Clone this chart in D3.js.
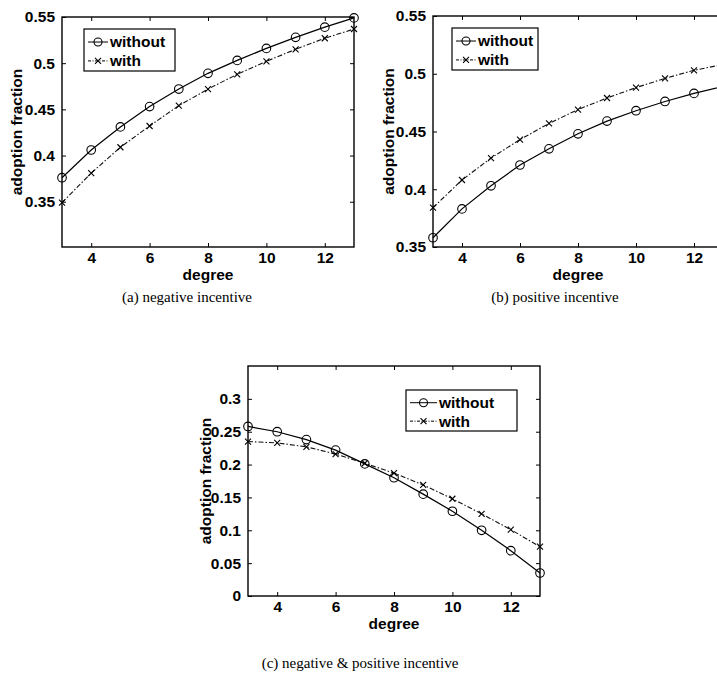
<!DOCTYPE html>
<html>
<head>
<meta charset="utf-8">
<script src="https://cdnjs.cloudflare.com/ajax/libs/d3/7.8.5/d3.min.js"></script>
<style>
  body { margin: 0; background: #fff; }
  svg { display: block; }
  .tick text, .lbl { font-family: "Liberation Sans", Arial, sans-serif; font-weight: bold; }
  .cap { font-family: "Liberation Serif", "Times New Roman", serif; }
</style>
</head>
<body>
<svg id="chart" width="717" height="680"></svg>
<script>
// degree values on the x axis
const degrees = [3, 4, 5, 6, 7, 8, 9, 10, 11, 12, 13];
const xTicks = [4, 6, 8, 10, 12];

// (a) negative incentive
const negWithout = [0.376, 0.406, 0.431, 0.453, 0.472, 0.489, 0.503, 0.516, 0.528, 0.539, 0.549];
const negWith    = [0.349, 0.381, 0.409, 0.432, 0.454, 0.472, 0.488, 0.502, 0.515, 0.527, 0.537];
const negTicks   = [0.35, 0.4, 0.45, 0.5, 0.55];

// (b) positive incentive
const posWithout = [0.358, 0.383, 0.403, 0.421, 0.435, 0.448, 0.459, 0.468, 0.476, 0.483, 0.489];
const posWith    = [0.384, 0.408, 0.427, 0.443, 0.457, 0.469, 0.479, 0.488, 0.496, 0.503, 0.508];
const posTicks   = [0.35, 0.4, 0.45, 0.5, 0.55];

// (c) negative & positive incentive
const bothWithout = [0.258, 0.250, 0.238, 0.222, 0.201, 0.180, 0.155, 0.129, 0.100, 0.069, 0.035];
const bothWith    = [0.235, 0.233, 0.227, 0.216, 0.202, 0.187, 0.169, 0.148, 0.125, 0.101, 0.075];
const bothTicks   = [0, 0.05, 0.1, 0.15, 0.2, 0.25, 0.3];

const seriesNames = ["without", "with"];
const captions = ["(a) negative incentive", "(b) positive incentive", "(c) negative & positive incentive"];

const svg = d3.select("#chart");

const panels = [
  { box: [62, 17, 354, 247], ydom: [0.301, 0.55], yt: negTicks, a: negWithout, b: negWith,
    ylx: 17, leg: [84, 29, 91, 42], cap: [187, 302], cpt: captions[0] },
  { box: [433, 16, 723, 247], ydom: [0.35, 0.55], yt: posTicks, a: posWithout, b: posWith,
    ylx: 389, leg: [452, 28, 86, 42], cap: [555, 302], cpt: captions[1] },
  { box: [248, 366, 540, 596], ydom: [0, 0.35], yt: bothTicks, a: bothWithout, b: bothWith,
    ylx: 206, leg: [406, 390, 111, 41], cap: [360, 668], cpt: captions[2] }
];

function fmt(v) { return String(+v.toFixed(3)); }

function drawPanel(p) {
  const [x0, y0, x1, y1] = p.box;
  const x = d3.scaleLinear().domain([3, 13]).range([x0, x1]);
  const y = d3.scaleLinear().domain(p.ydom).range([y1, y0]);
  const g = svg.append("g");

  // inward ticks on all sides, labels on bottom and left
  g.append("g").attr("transform", `translate(0,${y1})`)
    .call(d3.axisBottom(x).tickValues(xTicks).tickSizeInner(-4).tickSizeOuter(0).tickPadding(7).tickFormat(d3.format("d")))
    .call(s => s.select(".domain").remove())
    .call(s => s.selectAll("text").attr("font-size", 15.5).attr("dy", "0.55em"));
  g.append("g").attr("transform", `translate(0,${y0})`)
    .call(d3.axisTop(x).tickValues(xTicks).tickSizeInner(-4).tickSizeOuter(0).tickFormat(""))
    .call(s => s.select(".domain").remove());
  g.append("g").attr("transform", `translate(${x0},0)`)
    .call(d3.axisLeft(y).tickValues(p.yt).tickSizeInner(-4).tickSizeOuter(0).tickPadding(7).tickFormat(fmt))
    .call(s => s.select(".domain").remove())
    .call(s => s.selectAll("text").attr("font-size", 15.5));
  g.append("g").attr("transform", `translate(${x1},0)`)
    .call(d3.axisRight(y).tickValues(p.yt).tickSizeInner(-4).tickSizeOuter(0).tickFormat(""))
    .call(s => s.select(".domain").remove());
  g.selectAll(".tick line").attr("stroke", "#000");

  g.append("rect").attr("x", x0).attr("y", y0).attr("width", x1 - x0).attr("height", y1 - y0)
    .attr("fill", "none").attr("stroke", "#000").attr("stroke-width", 1.4);

  // series
  const line = d3.line().x((d, i) => x(degrees[i])).y(d => y(d));
  g.append("path").datum(p.b).attr("d", line).attr("fill", "none")
    .attr("stroke", "#111").attr("stroke-width", 1.1).attr("stroke-dasharray", "5,2,1.5,2");
  g.append("path").datum(p.a).attr("d", line).attr("fill", "none")
    .attr("stroke", "#000").attr("stroke-width", 1.2);

  g.selectAll(".mo").data(p.a).join("circle").attr("class", "mo")
    .attr("cx", (d, i) => x(degrees[i])).attr("cy", d => y(d)).attr("r", 4.3)
    .attr("fill", "none").attr("stroke", "#000").attr("stroke-width", 1.1);
  g.selectAll(".mx").data(p.b).join("path").attr("class", "mx")
    .attr("d", (d, i) => {
      const cx = x(degrees[i]), cy = y(d), s = 3;
      return `M${cx - s},${cy - s}L${cx + s},${cy + s}M${cx - s},${cy + s}L${cx + s},${cy - s}`;
    })
    .attr("stroke", "#000").attr("stroke-width", 1.1);

  // axis labels
  g.append("text").attr("class", "lbl").attr("x", x(8))
    .attr("y", y1 + 33).attr("text-anchor", "middle").attr("font-size", 15.5).text("degree");
  g.append("text").attr("class", "lbl")
    .attr("transform", `translate(${p.ylx},${(y0 + y1) / 2}) rotate(-90)`)
    .attr("text-anchor", "middle").attr("dy", "0.35em").attr("font-size", 15.5).text("adoption fraction");

  // legend
  const [lx, ly, lw, lh] = p.leg;
  const lg = g.append("g");
  lg.append("rect").attr("x", lx).attr("y", ly).attr("width", lw).attr("height", lh)
    .attr("fill", "#fff").attr("stroke", "#000").attr("stroke-width", 1.2);
  const rowY = [ly + lh * 0.31, ly + lh * 0.76];
  const sx0 = lx + 4, sx1 = lx + (lw > 100 ? 31 : 24), tx = sx1 + 2;
  seriesNames.forEach((name, k) => {
    const ry = rowY[k];
    lg.append("line").attr("x1", sx0).attr("x2", sx1).attr("y1", ry).attr("y2", ry)
      .attr("stroke", "#000").attr("stroke-width", 1)
      .attr("stroke-dasharray", k === 1 ? "3,1.5,1,1.5" : null);
    const mx = (sx0 + sx1) / 2;
    if (k === 0) {
      lg.append("circle").attr("cx", mx).attr("cy", ry).attr("r", 4).attr("fill", "none")
        .attr("stroke", "#000").attr("stroke-width", 1.1);
    } else {
      lg.append("path").attr("d", `M${mx - 3},${ry - 3}L${mx + 3},${ry + 3}M${mx - 3},${ry + 3}L${mx + 3},${ry - 3}`)
        .attr("stroke", "#000").attr("stroke-width", 1.1);
    }
    lg.append("text").attr("class", "lbl").attr("x", tx).attr("y", ry).attr("dy", "0.35em")
      .attr("font-size", 15.5).text(name);
  });

  // caption
  svg.append("text").attr("class", "cap").attr("x", p.cap[0]).attr("y", p.cap[1])
    .attr("text-anchor", "middle").attr("font-size", 15).text(p.cpt);
}

panels.forEach(drawPanel);
</script>
</body>
</html>
